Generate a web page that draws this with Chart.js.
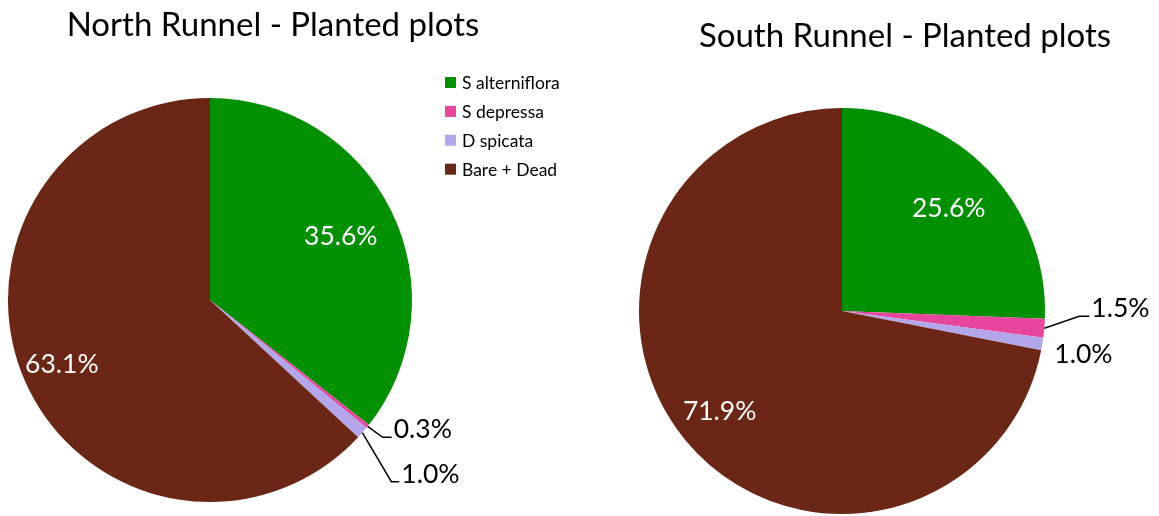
<!DOCTYPE html>
<html>
<head>
<meta charset="utf-8">
<script src="https://cdn.jsdelivr.net/npm/chart.js@4.4.1/dist/chart.umd.min.js"></script>
<style>
  html, body { margin: 0; padding: 0; background: #fff; overflow: hidden; }
  #wrap { position: relative; width: 1159px; height: 516px; }
  .box { position: absolute; top: 0; height: 516px; }
</style>
</head>
<body>
<div id="wrap">
  <div class="box" style="left:0;width:600px"><canvas id="north"></canvas></div>
  <div class="box" style="left:600px;width:559px"><canvas id="south"></canvas></div>
</div>
<script>
var categories = ["S alterniflora", "S depressa", "D spicata", "Bare + Dead"];
var northValues = [35.6, 0.3, 1.0, 63.1];
var southValues = [25.6, 1.5, 1.0, 71.9];
var colors = ["#009000", "#E8469C", "#B3A6EA", "#6B2615"];

var FONT = "Lato, 'Open Sans', sans-serif";

// draws title, legend and the percent labels (inside or with leader lines)
var annotate = {
  id: "annotate",
  afterDraw: function (chart, args, opts) {
    var ctx = chart.ctx;
    ctx.save();
    ctx.fillStyle = "#000";
    ctx.font = "33px " + FONT;
    ctx.textAlign = "center";
    ctx.textBaseline = "middle";
    ctx.fillText(opts.title, opts.titleX, opts.titleY);

    if (opts.legend) {
      ctx.font = "17.5px " + FONT;
      ctx.textAlign = "left";
      for (var i = 0; i < categories.length; i++) {
        var ly = opts.legend.y + i * 28.9;
        ctx.fillStyle = colors[i];
        ctx.fillRect(opts.legend.x, ly - 5.5, 11, 11);
        ctx.fillStyle = "#000";
        ctx.fillText(categories[i], opts.legend.x + 17, ly + 1);
      }
    }

    var meta = chart.getDatasetMeta(0);
    var values = chart.data.datasets[0].data;
    ctx.font = "26.5px " + FONT;
    meta.data.forEach(function (arc, i) {
      var lab = opts.labels[i];
      var txt = values[i].toFixed(1) + "%";
      var mid = (arc.startAngle + arc.endAngle) / 2;
      if (lab.inside) {
        var r = arc.outerRadius * lab.inside;
        ctx.fillStyle = "#fff";
        ctx.textAlign = "center";
        ctx.textBaseline = "middle";
        ctx.fillText(txt, arc.x + Math.cos(mid) * r, arc.y + Math.sin(mid) * r);
        return;
      }
      var ex = arc.x + Math.cos(mid) * arc.outerRadius;
      var ey = arc.y + Math.sin(mid) * arc.outerRadius;
      var kx = ex + lab.dx, ky = ey + lab.dy;
      if (lab.line) {
        ctx.strokeStyle = "#000";
        ctx.lineWidth = 1.5;
        ctx.beginPath();
        ctx.moveTo(ex, ey);
        ctx.lineTo(kx, ky);
        ctx.lineTo(kx + lab.h, ky);
        ctx.stroke();
      }
      ctx.fillStyle = "#000";
      ctx.textAlign = "left";
      ctx.textBaseline = "alphabetic";
      ctx.fillText(txt, kx + lab.h + 2, ky + 1);
    });
    ctx.restore();
  }
};

function makePie(id, values, pad, opts) {
  return new Chart(document.getElementById(id), {
    type: "pie",
    data: {
      labels: categories,
      datasets: [{
        data: values,
        backgroundColor: colors,
        borderWidth: 0
      }]
    },
    options: {
      responsive: true,
      maintainAspectRatio: false,
      animation: false,
      layout: { padding: pad },
      plugins: {
        legend: { display: false },
        tooltip: { enabled: false },
        annotate: opts
      }
    },
    plugins: [annotate]
  });
}

makePie("north", northValues, { left: 8, right: 188, top: 98, bottom: 14 }, {
  title: "North Runnel - Planted plots",
  titleX: 273, titleY: 25,
  legend: { x: 445, y: 82.5 },
  labels: [
    { inside: 0.72 },
    { dx: 15, dy: 11, h: 9, line: true },
    { dx: 29, dy: 49, h: 8, line: true },
    { inside: 0.8 }
  ]
});

makePie("south", southValues, { left: 39, right: 114, top: 108, bottom: 2 }, {
  title: "South Runnel - Planted plots",
  titleX: 305, titleY: 36,
  labels: [
    { inside: 0.73 },
    { dx: 35, dy: -12, h: 10, line: true },
    { dx: 10, dy: 18, h: 0, line: false },
    { inside: 0.78 }
  ]
});
</script>
</body>
</html>
